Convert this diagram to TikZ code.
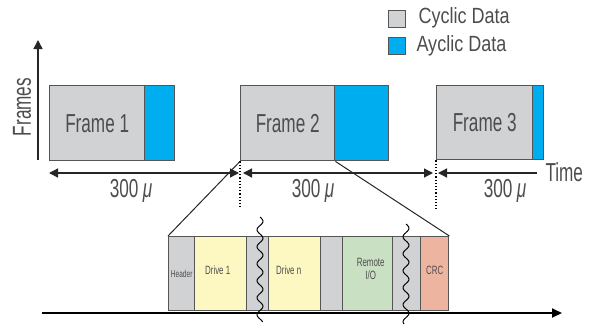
\documentclass[tikz,border=0pt]{standalone}
\usepackage{fontspec}
\setmainfont{Liberation Sans}[FakeStretch=0.66]
\newfontfamily\legendfont{Liberation Sans}[FakeStretch=0.82]
\usetikzlibrary{arrows.meta}
\definecolor{cyc}{HTML}{D1D2D4}
\definecolor{acy}{HTML}{00AEEF}
\definecolor{drv}{HTML}{FDF8C2}
\definecolor{rio}{HTML}{C9E0C3}
\definecolor{crc}{HTML}{EDB5A0}
\definecolor{edge}{HTML}{555555}
\definecolor{txt}{HTML}{4D4D4D}
\tikzset{
  box/.style={draw=edge, line width=1.4pt, inner sep=0pt, anchor=north west, text=txt},
  big/.style={font=\fontsize{26}{28}\selectfont, text=txt},
  legtext/.style={font=\legendfont\fontsize{22}{24}\selectfont, text=txt, anchor=west},
  small/.style={font=\fontsize{12}{13}\selectfont, text=txt},
  tip/.style={-{Triangle[length=9pt,width=9pt]}},
  tips/.style={{Triangle[length=9pt,width=9pt]}-{Triangle[length=9pt,width=9pt]}},
  conn/.style={draw=black!85, line width=1pt},
}
\begin{document}
\begin{tikzpicture}[x=1pt,y=-1pt]
\useasboundingbox (0,0) rectangle (591,324);
% legend
\node[box, fill=cyc, minimum width=17pt, minimum height=17pt] (lg1) at (388,10) {};
\node[box, fill=acy, minimum width=17pt, minimum height=17pt] (lg2) at (388,37) {};
\node[legtext] (lt1) at (415,18) {Cyclic Data};
\node[legtext] (lt2) at (413,46) {Ayclic Data};
% axis
\coordinate (ax0) at (38,160);
\coordinate (ax1) at (38,40);
\draw[conn, line width=1.4pt, tip] (ax0) -- (ax1);
\node[big, rotate=90] (fr) at (22,107) {Frames};
% frames
\node[box, fill=cyc, minimum width=95pt, minimum height=75pt] (f1) at (49,85) {};
\node[box, fill=acy, minimum width=30pt, minimum height=75pt] (a1) at (144,85) {};
\node[big] (t1) at (f1.center) {Frame 1};
\node[box, fill=cyc, minimum width=94pt, minimum height=75pt] (f2) at (240,85) {};
\node[box, fill=acy, minimum width=54pt, minimum height=75pt] (a2) at (334,85) {};
\node[big] (t2) at (f2.center) {Frame 2};
\node[box, fill=cyc, minimum width=96pt, minimum height=74pt] (f3) at (436,85) {};
\node[box, fill=acy, minimum width=11pt, minimum height=74pt] (a3) at (532,85) {};
\node[big] (t3) at (f3.center) {Frame 3};
% time arrows
\coordinate (p1) at (49,173);
\coordinate (p2) at (239,173);
\coordinate (p3) at (243,173);
\coordinate (p4) at (433,173);
\coordinate (p5) at (438,173);
\coordinate (p6) at (537,173);
\draw[conn, line width=1.3pt, tips] (p1) -- (p2);
\draw[conn, line width=1.3pt, tips] (p3) -- (p4);
\draw[conn, line width=1.3pt, {Triangle[length=9pt,width=9pt]}-] (p5) -- (p6);
\node[big, anchor=west] (time) at (542,172) {Time};
\node[big] (d1) at (131,191) {300\,\textit{μ}};
\node[big] (d2) at (313,191) {300\,\textit{μ}};
\node[big] (d3) at (505,191) {300\,\textit{μ}};
% dotted lines
\coordinate (q1) at (240,209);
\coordinate (q2) at (436,209);
\draw[line width=1.2pt, dotted] (f2.south west) -- (q1);
\draw[line width=1.2pt, dotted] (f3.south west) -- (q2);
% detail boxes
\node[box, fill=cyc, minimum width=26pt, minimum height=74pt] (hd) at (168,236) {};
\node[box, fill=drv, minimum width=52pt, minimum height=74pt] (dr1) at (194,236) {};
\node[box, fill=cyc, minimum width=22pt, minimum height=74pt] (g1) at (246,236) {};
\node[box, fill=drv, minimum width=52pt, minimum height=74pt] (drn) at (268,236) {};
\node[box, fill=cyc, minimum width=22pt, minimum height=74pt] (g2) at (320,236) {};
\node[box, fill=rio, minimum width=50pt, minimum height=74pt] (rm) at (342,236) {};
\node[box, fill=cyc, minimum width=28pt, minimum height=74pt] (g3) at (392,236) {};
\node[box, fill=crc, minimum width=28pt, minimum height=74pt] (cr) at (420,236) {};
\node[small, font=\fontsize{10}{11}\selectfont] at (hd.center) {Header};
\node[small] at ([xshift=-3pt,yshift=3pt]dr1.center) {Drive 1};
\node[small] at ([xshift=-6pt,yshift=3pt]drn.center) {Drive n};
\node[small, align=center] at ([xshift=3pt,yshift=5pt]rm.center) {Remote\\I/O};
\node[small] at ([yshift=3pt]cr.center) {CRC};
% zoom lines
\draw[conn] (f2.south west) -- (hd.north west);
\draw[conn] (f2.south east) -- (cr.north east);
% wavy lines
\draw[black, line width=1pt] plot[domain=217:322, samples=80, smooth] ({260+3*sin((\x-217)/17*360)},\x);
\draw[black, line width=1pt] plot[domain=224:324, samples=80, smooth] ({406+3*sin((\x-224)/17*360)},\x);
% bottom time axis
\coordinate (b0) at (42,313);
\coordinate (b1) at (562,313);
\draw[black, line width=1.8pt, -{Triangle[length=10pt,width=9pt]}] (b0) -- (b1);
\end{tikzpicture}
\end{document}
